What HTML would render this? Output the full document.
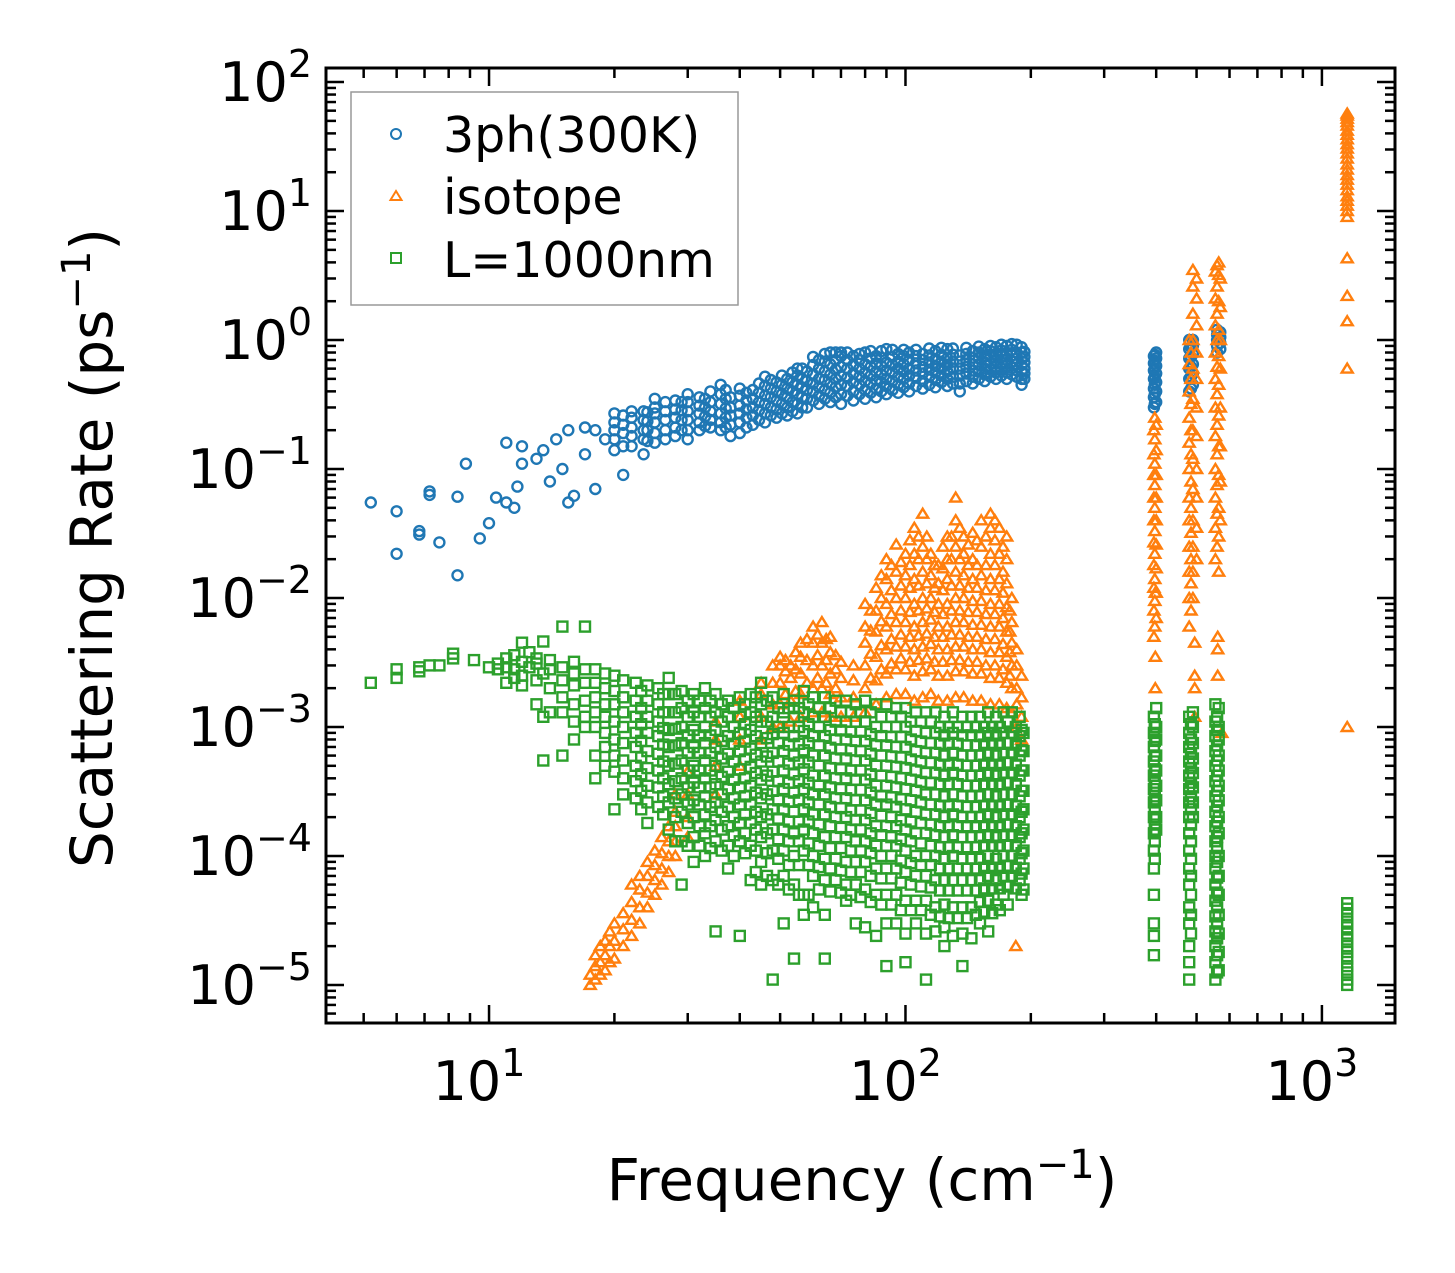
<!DOCTYPE html>
<html><head><meta charset="utf-8"><style>
html,body{margin:0;padding:0;background:#fff;}
svg{display:block;font-family:"DejaVu Sans","Liberation Sans",sans-serif;}
</style></head><body>
<svg id="chart" width="1455" height="1273" viewBox="0 0 1455 1273" xmlns="http://www.w3.org/2000/svg">
<rect width="1455" height="1273" fill="#fff"/>
<g id="marks"></g>
<g id="axes"></g>
<g>
<rect x="351" y="92" width="387" height="213" fill="#fff" stroke="#999" stroke-width="1.5"/>
<circle cx="396" cy="134" r="5" fill="none" stroke="#1f77b4" stroke-width="2"/>
<text x="443" y="152" font-size="49">3ph(300K)</text>
<path d="M396,191 L401.5,200 L390.5,200 Z" fill="none" stroke="#ff7f0e" stroke-width="2"/>
<text x="443" y="214" font-size="49">isotope</text>
<rect x="391" y="253" width="10" height="10" fill="none" stroke="#2ca02c" stroke-width="2"/>
<text x="443" y="277" font-size="49">L=1000nm</text>
</g>
<text x="862" y="1200" font-size="58" text-anchor="middle">Frequency (cm<tspan dy="-22" font-size="40">−1</tspan><tspan dy="22">)</tspan></text>
<text transform="translate(112,548) rotate(-90)" font-size="58" text-anchor="middle">Scattering Rate (ps<tspan dy="-22" font-size="40">−1</tspan><tspan dy="22">)</tspan></text>
</svg>
<script>
const xTicks=[1,2,3];
const yTicks=[2,1,0,-1,-2,-3,-4,-5];
const blueCols=[[5.2,[.055]],[6,[.047,.022]],[6.8,[.033,.031]],[7.2,[.067,.063]],[7.6,[.027]],[8.4,[.061,.015]],[8.8,[.11]],[9.5,[.029]],[10,[.038]],[10.4,[.06]],[11,[.16,.055]],[11.5,[.05]],[11.7,[.073]],[12,[.11,.15]],[13,[.12]],[13.5,[.14]],[14,[.08]],[14.5,[.17]],[15,[.1]],[15.5,[.055,.2]],[16,[.062]],[17,[.13,.21]],[18,[.07,.2]],[19,[.17]],
[20,[.14,.17,.2,.23,.27]],[21,[.09,.15,.19,.22,.26]],[22,[.15,.18,.21,.25,.28]],[23.5,[.13,.17,.2,.24,.28]],[25,[.16,.19,.23,.27,.3,.35]],[26.5,[.17,.2,.24,.28,.33]],[28,[.18,.21,.25,.29,.34]],[30,[.17,.2,.24,.28,.33,.38]],[32,[.2,.23,.27,.31,.36]],[34,[.21,.24,.28,.33,.4]],[36,[.2,.23,.27,.32,.38,.45]],[38,[.18,.22,.26,.3,.36]],[40,[.19,.23,.27,.31,.37,.42]],[43,[.22,.26,.3,.35,.41]],[46,[.23,.27,.32,.37,.44,.52]],[49,[.25,.29,.34,.4,.47]],[52,[.26,.3,.36,.42,.5]],[55,[.27,.32,.38,.45,.53,.6]],[58,[.3,.35,.41,.48,.57]],[62,[.32,.37,.43,.5,.6,.7]],[66,[.33,.39,.46,.54,.65,.8]],[70,[.32,.38,.45,.53,.62,.75,.8]],[75,[.34,.4,.47,.55,.64,.75]],[80,[.35,.41,.48,.56,.65,.8]],[85,[.36,.42,.49,.57,.66,.75]],[90,[.38,.44,.5,.58,.67,.85]],[96,[.39,.45,.52,.6,.68,.78]],[102,[.4,.46,.53,.6,.7,.8]],[110,[.42,.48,.55,.62,.7,.78]],[118,[.43,.49,.56,.63,.71,.82]],[126,[.44,.5,.57,.64,.72,.85]],[135,[.4,.46,.53,.6,.68,.76]],[145,[.46,.52,.58,.65,.73,.82]],[155,[.48,.54,.6,.67,.75,.85]],[165,[.5,.56,.62,.69,.77,.88]],[175,[.5,.56,.63,.7,.78,.9]],[185,[.52,.58,.65,.72,.8,.92]],[190,[.45,.5,.57,.64,.72,.8,.88]],
[24,[.165,.2,.235,.275]],[29,[.2,.24,.285,.33]],[33,[.215,.255,.3,.35]],[37,[.21,.25,.295,.35,.41]],[41.5,[.21,.25,.29,.34,.39]],[44.5,[.24,.285,.33,.39,.46]],[47.5,[.26,.3,.36,.42,.49]],[50.5,[.27,.32,.38,.45,.53]],[53.5,[.28,.33,.4,.47,.56]],[56.5,[.3,.36,.43,.5,.6]],[60,[.34,.4,.46,.54,.64,.74]],[64,[.35,.41,.49,.57,.68,.78]],[68,[.36,.43,.5,.59,.7,.8]],[72.5,[.37,.44,.51,.6,.7,.8]],[77.5,[.38,.45,.52,.6,.7,.78]],[82.5,[.39,.46,.53,.62,.72,.82]],[87.5,[.4,.47,.54,.63,.73,.82]],[93,[.41,.48,.56,.64,.74,.84]],[99,[.43,.5,.57,.65,.75,.84]],[106,[.44,.51,.58,.66,.75,.84]],[114,[.45,.52,.59,.67,.76,.86]],[122,[.47,.53,.6,.68,.77,.87]],[130,[.46,.52,.6,.68,.77,.86]],[140,[.48,.55,.62,.7,.78,.87]],[150,[.5,.57,.64,.72,.8,.89]],[160,[.52,.59,.66,.74,.82,.9]],[170,[.53,.6,.67,.75,.83,.92]],[180,[.54,.61,.68,.76,.84,.93]],[193,[.5,.55,.6,.67,.74,.81]],
[395,[.3,.36,.42,.5,.58,.66,.75]],[400,[.33,.4,.47,.55,.63,.72,.8]],[397,[.32,.38,.45,.52,.6,.69,.77]],[480,[.4,.5,.6,.72,.85,1.0]],[490,[.45,.55,.65,.78,.9,1.0]],[485,[.42,.52,.62,.74,.88]],[560,[.8,.9,1.0,1.1,1.2]],[570,[.85,.95,1.05,1.15]]];
const orangeCols=[[17.5,[1e-5,1.2e-5]],[18,[1.1e-5,1.4e-5,1.7e-5]],[18.5,[1.2e-5,1.5e-5,2e-5]],[19,[1.3e-5,1.7e-5,2.2e-5]],[19.5,[1.5e-5,2e-5,2.6e-5]],[20,[1.6e-5,2.2e-5,3e-5]],[21,[2e-5,2.7e-5,3.6e-5]],[22,[2.4e-5,3.2e-5,4.4e-5,6e-5]],[23,[3e-5,4e-5,5.5e-5,7e-5]],[24,[4e-5,5.2e-5,7e-5,9e-5]],[25,[5e-5,6.5e-5,8.5e-5,1.1e-4]],[26,[6e-5,8e-5,1.05e-4,1.4e-4]],[27,[7.5e-5,1e-4,1.3e-4,1.7e-4]],[28,[1e-4,1.3e-4,1.7e-4,2.2e-4,3e-4]],[30,[1.4e-4,2e-4,3e-4,4.5e-4]],
[35,[3e-4,5e-4,8e-4,1.1e-3]],[40,[5e-4,8e-4,1.2e-3,1.6e-3]],[45,[8e-4,1.2e-3,1.8e-3,2.2e-3]],[48,[1e-3,1.5e-3,2.2e-3,3e-3]],[50,[1e-3,1.5e-3,2.2e-3,3e-3,3.5e-3]],[53,[1.1e-3,1.6e-3,2.4e-3,3e-3]],[56,[1.2e-3,1.8e-3,2.6e-3,3.5e-3,4.5e-3]],[60,[1.3e-3,2e-3,3e-3,4.5e-3,6e-3]],[63,[1.3e-3,2e-3,3e-3,4.5e-3,6.5e-3]],[66,[1.2e-3,1.8e-3,2.6e-3,3.8e-3,5e-3]],[70,[1.2e-3,1.7e-3,2.4e-3,3.2e-3]],[75,[1.2e-3,1.7e-3,2.3e-3,3e-3]],[80,[1.3e-3,2e-3,3e-3,4.5e-3,6e-3,9e-3]],[85,[1.5e-3,2.3e-3,3.5e-3,5.5e-3,8e-3,1.2e-2]],[90,[1.7e-3,2.6e-3,4e-3,6e-3,9e-3,1.4e-2,2e-2]],[95,[1.8e-3,2.8e-3,4.2e-3,6.5e-3,1e-2,1.6e-2,2.6e-2]],[100,[1.8e-3,2.8e-3,4.2e-3,6.5e-3,1e-2,1.5e-2,2.2e-2]],[105,[1.6e-3,2.5e-3,4e-3,6e-3,9e-3,1.4e-2,2.2e-2,3.5e-2]],[110,[1.7e-3,2.7e-3,4.2e-3,6.5e-3,1e-2,1.6e-2,2.5e-2,4.5e-2]],[115,[1.8e-3,2.8e-3,4.4e-3,6.8e-3,1e-2,1.5e-2,2.2e-2]],[120,[1.6e-3,2.5e-3,4e-3,6e-3,9e-3,1.3e-2,1.8e-2]],[126,[1.6e-3,2.5e-3,4e-3,6e-3,9e-3,1.4e-2,2e-2,3e-2]],[132,[1.7e-3,2.7e-3,4.2e-3,6.5e-3,1e-2,1.6e-2,2.5e-2,4e-2,6e-2]],[138,[1.7e-3,2.7e-3,4.2e-3,6.5e-3,1e-2,1.5e-2,2.2e-2,3e-2]],[145,[1.6e-3,2.6e-3,4e-3,6.2e-3,9.5e-3,1.4e-2,2e-2,3.2e-2]],[152,[1.6e-3,2.6e-3,4e-3,6.2e-3,9.5e-3,1.5e-2,2.5e-2,4e-2]],[160,[1.5e-3,2.4e-3,3.8e-3,6e-3,9e-3,1.4e-2,2.2e-2,3.5e-2,4.5e-2]],[168,[1.5e-3,2.4e-3,3.8e-3,6e-3,9e-3,1.4e-2,2.2e-2,3.5e-2]],[175,[1.4e-3,2.2e-3,3.5e-3,5.5e-3,8.5e-3,1.3e-2,2e-2,3e-2]],[180,[1.3e-3,2e-3,3e-3,4.5e-3,6.5e-3,1e-2]],[185,[1e-3,1.5e-3,2e-3,3e-3,4e-3]],[190,[8e-4,1.2e-3,1.7e-3,2.5e-3]],[184,[2e-5]],
[51.5,[1.8e-3,2.7e-3,3.3e-3]],[54.5,[1.9e-3,2.8e-3,3.8e-3]],[58,[2.2e-3,3.3e-3,4.8e-3]],[61.5,[2.4e-3,3.6e-3,5.2e-3]],[64.5,[2.2e-3,3.3e-3,4.8e-3]],[68,[2e-3,2.8e-3,3.6e-3]],[82.5,[2.4e-3,3.7e-3,5.6e-3,8e-3]],[87.5,[2.8e-3,4.3e-3,6.6e-3,1e-2,1.5e-2]],[92.5,[3.1e-3,4.8e-3,7.5e-3,1.15e-2,1.8e-2]],[97.5,[3.4e-3,5.2e-3,8e-3,1.25e-2,1.9e-2]],[102.5,[3.2e-3,5e-3,7.8e-3,1.2e-2,1.8e-2,2.8e-2]],[107.5,[3.3e-3,5.1e-3,8e-3,1.25e-2,2e-2,3e-2]],[112.5,[3.4e-3,5.3e-3,8.3e-3,1.3e-2,2e-2,3e-2]],[117.5,[3.2e-3,5e-3,7.8e-3,1.2e-2,1.8e-2]],[123,[3.2e-3,5e-3,7.5e-3,1.15e-2,1.7e-2,2.5e-2]],[129,[3.3e-3,5.2e-3,8e-3,1.25e-2,2e-2,3e-2]],[135,[3.3e-3,5.2e-3,8e-3,1.25e-2,2e-2,3.5e-2]],[141.5,[3.2e-3,5e-3,7.8e-3,1.2e-2,1.8e-2,2.6e-2]],[148.5,[3.2e-3,5e-3,7.8e-3,1.2e-2,1.8e-2,2.8e-2]],[156,[3e-3,4.8e-3,7.5e-3,1.15e-2,1.8e-2,3e-2]],[164,[3e-3,4.8e-3,7.5e-3,1.15e-2,1.8e-2,2.8e-2,4e-2]],[171.5,[2.8e-3,4.4e-3,7e-3,1.1e-2,1.6e-2,2.5e-2]],[178,[2.5e-3,3.8e-3,5.5e-3,8e-3]],
[395,[.005,.008,.012,.018,.027,.04,.06,.09,.13,.2]],[400,[.007,.011,.017,.026,.04,.06,.09,.14,.22]],[397,[.006,.0095,.014,.022,.033,.05,.075,.11,.17,.25]],[398,[3.5e-3,1.1e-2,2e-3]],
[480,[.006,.01,.016,.025,.04,.06,.1,.16,.25,.4,.65,1]],[490,[.01,.016,.025,.04,.07,.12,.2,.35,.6,1,1.6,2.6,3.5]],[485,[.008,.013,.02,.032,.05,.08,.13,.2,.32,.5,.8]],[500,[.02,.035,.06,.1,.18,.3,.5,.8,1.3,2.1,3]],[495,[.0045,.0025,.002,.0012]],
[555,[.02,.035,.06,.1,.18,.3,.5,.8,1.3,2.1,3.4]],[565,[.016,.03,.05,.09,.15,.26,.45,.75,1.2,2,3.2,4]],[560,[.025,.045,.075,.13,.22,.38,.62,1,1.6,2.6,3.8]],[570,[.04,.08,.15,.3,.6,1,1.8,3]],[562,[.005,.004,.0025]],[575,[9e-4]],
[1150,[9,10,11,12,13,14.5,16,17.5,19,21,23,25.5,28,30.5,33,36,39,42,46,49,52,55,57]],[1150,[4.3,2.2,1.4,.6,.001]]];
const greenCols=[[5.2,[.0022]],[6,[.0028,.0024]],[6.8,[.0029,.0027]],[7.2,[.003]],[7.6,[.003]],[8.2,[.0037,.0034]],[9.2,[.0033]],[10,[.0029]],[10.5,[.0031,.0028]],[11,[.0034,.0022,.0029]],[11.5,[.0024,.0036,.0028]],[12,[.0045,.0032,.0021,.0025]],[12.5,[.0038,.0029]],[13,[.0034,.0031,.0023,.0015]],[13.5,[.0046,.0026,.0012,5.5e-4]],[14,[.0033,.0028,.002,.0013]],[15,[.006,.0029,.0023,.0017,.0013,6e-4]],[16,[.0032,.0026,.0021,.0015,.0011,8e-4]],[17,[.006,.0028,.0022,.0016,.0012,.001]],[18,[.0028,.0022,.0017,.0013,.001,6e-4,4e-4]],[19,[.0026,.002,.0015,.0012,9e-4,7e-4,5e-4]],[20,[.0025,.0019,.0015,.0011,8e-4,6e-4,4.5e-4,2.3e-4]],
[21,[.0023,.0017,.0013,.001,7.5e-4,5.5e-4,4e-4,3e-4]],[22.5,[.0022,.0016,.0012,9e-4,7e-4,5e-4,3.8e-4,2.8e-4]],[24,[.0021,.0016,.0012,9e-4,6.5e-4,4.8e-4,3.5e-4,2.6e-4,1.8e-4]],[25.5,[.002,.0015,.0011,8.5e-4,6.2e-4,4.6e-4,3.4e-4,2.4e-4]],[27,[.0024,.0018,.0013,9.5e-4,7e-4,5e-4,3.6e-4,2.6e-4,1.6e-4]],[29,[.0019,.0014,.001,7.5e-4,5.5e-4,4e-4,3e-4,2.2e-4,1.3e-4,6e-5]],[31,[.0018,.0013,9.5e-4,7e-4,5e-4,3.7e-4,2.7e-4,2e-4,1.4e-4,9e-5]],[33,[.002,.0014,.001,7.5e-4,5.5e-4,4e-4,2.9e-4,2.1e-4,1.5e-4,1e-4]],[35,[.0018,.0013,9.5e-4,7e-4,5e-4,3.6e-4,2.6e-4,1.9e-4,1.3e-4,2.6e-5]],[37.5,[.0016,.0012,8.5e-4,6.2e-4,4.5e-4,3.3e-4,2.4e-4,1.7e-4,1.2e-4,8e-5]],[40,[.0017,.0012,9e-4,6.5e-4,4.7e-4,3.4e-4,2.5e-4,1.8e-4,1.3e-4,2.4e-5]],[42.5,[.0018,.0013,9.5e-4,6.8e-4,4.9e-4,3.5e-4,2.5e-4,1.8e-4,1.2e-4,6.5e-5]],[45,[.0022,.0015,.0011,7.5e-4,5.4e-4,3.9e-4,2.8e-4,2e-4,1.4e-4,9e-5,6e-5]],[48,[.0017,.0012,8.8e-4,6.3e-4,4.5e-4,3.2e-4,2.3e-4,1.6e-4,1.1e-4,6.5e-5,1.1e-5]],[51,[.0018,.0013,9e-4,6.5e-4,4.6e-4,3.3e-4,2.3e-4,1.6e-4,1.1e-4,7e-5,3e-5]],[54,[.0016,.0012,8.5e-4,6e-4,4.3e-4,3.1e-4,2.2e-4,1.5e-4,1e-4,6e-5,1.6e-5]],[57,[.0019,.0013,9.3e-4,6.6e-4,4.7e-4,3.3e-4,2.3e-4,1.6e-4,1.1e-4,5e-5,3.5e-5]],[60,[.0017,.0012,8.5e-4,6e-4,4.2e-4,3e-4,2.1e-4,1.5e-4,1e-4,7e-5,4e-5]],[64,[.0017,.0012,8.5e-4,6e-4,4.2e-4,3e-4,2.1e-4,1.4e-4,9.5e-5,6.5e-5,3.5e-5,1.6e-5]],[68,[.0016,.0011,8e-4,5.7e-4,4e-4,2.8e-4,2e-4,1.4e-4,9.5e-5,6.5e-5]],[72,[.0016,.0011,8e-4,5.7e-4,4e-4,2.8e-4,2e-4,1.4e-4,9e-5,6e-5,4.5e-5]],[76,[.0015,.0011,7.8e-4,5.5e-4,3.9e-4,2.7e-4,1.9e-4,1.3e-4,9e-5,6e-5,3e-5]],[80,[.0016,.0011,7.8e-4,5.5e-4,3.9e-4,2.7e-4,1.9e-4,1.3e-4,9e-5,5.5e-5,2.8e-5]],[85,[.0015,.001,7.2e-4,5e-4,3.5e-4,2.5e-4,1.7e-4,1.2e-4,8e-5,5e-5,2.4e-5]],[90,[.0015,.001,7.2e-4,5e-4,3.5e-4,2.5e-4,1.7e-4,1.2e-4,8e-5,5e-5,3e-5,1.4e-5]],[95,[.0014,.001,7e-4,4.9e-4,3.4e-4,2.4e-4,1.7e-4,1.2e-4,8e-5,5e-5,3e-5]],[100,[.0014,.001,7e-4,4.8e-4,3.3e-4,2.3e-4,1.6e-4,1.1e-4,7.5e-5,4.5e-5,2.5e-5,1.5e-5]],[106,[.0013,9.3e-4,6.5e-4,4.6e-4,3.2e-4,2.2e-4,1.5e-4,1e-4,7e-5,4.5e-5,3e-5]],[112,[.0013,9e-4,6.3e-4,4.4e-4,3e-4,2.1e-4,1.5e-4,1e-4,7e-5,4.5e-5,2.5e-5,1.1e-5]],[118,[.0013,9e-4,6.3e-4,4.4e-4,3e-4,2.1e-4,1.45e-4,1e-4,6.5e-5,4e-5,2.6e-5]],[124,[.0012,8.6e-4,6e-4,4.2e-4,2.9e-4,2e-4,1.4e-4,9.5e-5,6.5e-5,4.2e-5,2.8e-5,2e-5]],[130,[.0013,9e-4,6.3e-4,4.4e-4,3e-4,2.1e-4,1.45e-4,1e-4,6.5e-5,4e-5,2.4e-5]],[137,[.0012,8.6e-4,6e-4,4.2e-4,2.9e-4,2e-4,1.4e-4,9.5e-5,6.5e-5,4e-5,2.5e-5,1.4e-5]],[144,[.0012,8.6e-4,6e-4,4.2e-4,2.9e-4,2e-4,1.4e-4,9.5e-5,6.5e-5,4e-5,2.3e-5]],[151,[.0012,8.5e-4,6e-4,4.2e-4,2.9e-4,2e-4,1.4e-4,9.5e-5,6.5e-5,4.4e-5,3e-5]],[158,[.0013,9e-4,6.3e-4,4.4e-4,3e-4,2.1e-4,1.45e-4,1e-4,7e-5,4.5e-5,2.6e-5]],[165,[.0012,8.6e-4,6e-4,4.2e-4,2.9e-4,2e-4,1.4e-4,9.5e-5,6.5e-5,4.2e-5]],[172,[.0013,9e-4,6.3e-4,4.4e-4,3e-4,2.1e-4,1.45e-4,1e-4,7e-5,5e-5]],[180,[.0013,9e-4,6.3e-4,4.4e-4,3e-4,2.1e-4,1.45e-4,1e-4,7e-5]],[188,[.0012,8.5e-4,6e-4,4.2e-4,2.9e-4,2e-4,1.4e-4,9.5e-5,6.5e-5]],[192,[9e-4,6.5e-4,4.6e-4,3.2e-4,2.3e-4,1.6e-4,1.1e-4,8e-5,5.5e-5]],
[23.2,[.0019,.0014,.00105,7.8e-4,5.8e-4,4.3e-4,3.2e-4,2.3e-4]],[26.2,[.0018,.0013,9.8e-4,7.3e-4,5.4e-4,4e-4,2.9e-4,2.1e-4]],[28,[.0018,.0013,9.7e-4,7.2e-4,5.2e-4,3.8e-4,2.8e-4,2e-4,1.3e-4]],[30,[.0016,.0012,8.6e-4,6.3e-4,4.6e-4,3.4e-4,2.5e-4,1.8e-4,1.2e-4]],[32,[.0016,.0012,8.6e-4,6.3e-4,4.6e-4,3.4e-4,2.5e-4,1.7e-4,1.2e-4]],[34,[.0016,.0012,8.6e-4,6.3e-4,4.6e-4,3.4e-4,2.4e-4,1.7e-4,1.15e-4]],[36.2,[.0015,.0011,7.8e-4,5.7e-4,4.1e-4,3e-4,2.2e-4,1.6e-4,1.1e-4]],[38.7,[.0014,.001,7.4e-4,5.4e-4,3.9e-4,2.8e-4,2e-4,1.45e-4,1e-4]],[41.2,[.0015,.00105,7.7e-4,5.6e-4,4e-4,2.9e-4,2.1e-4,1.5e-4,1.05e-4]],[43.7,[.0017,.0012,8.5e-4,6.1e-4,4.4e-4,3.1e-4,2.2e-4,1.6e-4,1.1e-4,7.5e-5]],[46.5,[.0016,.0011,8.2e-4,5.9e-4,4.2e-4,3e-4,2.1e-4,1.5e-4,1.05e-4,7e-5]],[49.5,[.0014,.001,7.5e-4,5.4e-4,3.8e-4,2.7e-4,1.95e-4,1.35e-4,9.5e-5,6e-5]],[52.5,[.0014,.001,7.3e-4,5.2e-4,3.7e-4,2.65e-4,1.85e-4,1.3e-4,8.5e-5,5.5e-5]],[55.5,[.0014,.001,7.4e-4,5.3e-4,3.8e-4,2.7e-4,1.85e-4,1.3e-4,8.5e-5,5e-5]],[58.5,[.0015,.00105,7.5e-4,5.3e-4,3.7e-4,2.6e-4,1.85e-4,1.25e-4,8.5e-5,5e-5]],[62,[.0014,.001,7.2e-4,5e-4,3.5e-4,2.5e-4,1.75e-4,1.2e-4,8.2e-5,5.5e-5]],[66,[.0014,9.5e-4,6.9e-4,4.8e-4,3.4e-4,2.4e-4,1.7e-4,1.15e-4,8e-5,5.3e-5]],[70,[.0013,9.4e-4,6.7e-4,4.7e-4,3.3e-4,2.35e-4,1.65e-4,1.15e-4,7.7e-5,5.2e-5]],[74,[.0013,9.2e-4,6.6e-4,4.6e-4,3.25e-4,2.25e-4,1.6e-4,1.1e-4,7.5e-5,5e-5]],[78,[.0013,9.2e-4,6.5e-4,4.6e-4,3.25e-4,2.25e-4,1.6e-4,1.1e-4,7.5e-5,4.8e-5]],[82.5,[.0013,8.8e-4,6.2e-4,4.3e-4,3.1e-4,2.15e-4,1.5e-4,1.05e-4,7e-5,4.4e-5]],[87.5,[.0012,8.5e-4,6e-4,4.2e-4,2.9e-4,2.05e-4,1.45e-4,1e-4,6.7e-5,4.2e-5]],[92.5,[.0012,8.4e-4,5.9e-4,4.1e-4,2.85e-4,2e-4,1.4e-4,1e-4,6.7e-5,4.2e-5]],[97.5,[.0012,8.4e-4,5.8e-4,4e-4,2.75e-4,1.9e-4,1.35e-4,9.2e-5,6.2e-5,3.8e-5]],[103,[.0011,8e-4,5.6e-4,3.9e-4,2.7e-4,1.85e-4,1.3e-4,8.8e-5,6e-5,3.8e-5]],[109,[.0011,7.7e-4,5.4e-4,3.75e-4,2.6e-4,1.8e-4,1.25e-4,8.5e-5,5.8e-5,3.8e-5]],[115,[.0011,7.5e-4,5.3e-4,3.7e-4,2.5e-4,1.75e-4,1.2e-4,8.5e-5,5.7e-5,3.5e-5]],[121,[.001,7.4e-4,5.1e-4,3.6e-4,2.45e-4,1.7e-4,1.17e-4,8e-5,5.4e-5,3.4e-5]],[127,[.001,7.4e-4,5.1e-4,3.6e-4,2.45e-4,1.7e-4,1.17e-4,8e-5,5.4e-5,3.3e-5]],[133.5,[.001,7.4e-4,5.1e-4,3.6e-4,2.45e-4,1.7e-4,1.17e-4,8e-5,5.4e-5,3.3e-5]],[140.5,[.001,7.2e-4,5e-4,3.5e-4,2.4e-4,1.7e-4,1.17e-4,8e-5,5.4e-5,3.3e-5]],[147.5,[.001,7.2e-4,5e-4,3.5e-4,2.4e-4,1.7e-4,1.17e-4,8e-5,5.4e-5,3.5e-5]],[154.5,[.001,7.3e-4,5.1e-4,3.6e-4,2.45e-4,1.7e-4,1.2e-4,8.1e-5,5.6e-5,3.7e-5]],[161.5,[.001,7.4e-4,5.1e-4,3.6e-4,2.45e-4,1.7e-4,1.2e-4,8.1e-5,5.6e-5,3.6e-5]],[168.5,[.001,7.4e-4,5.1e-4,3.6e-4,2.45e-4,1.7e-4,1.2e-4,8.1e-5,5.6e-5,3.8e-5]],[176,[.0011,7.5e-4,5.3e-4,3.7e-4,2.5e-4,1.75e-4,1.2e-4,8.4e-5,5.8e-5,4.2e-5]],[184,[.001,7.3e-4,5.1e-4,3.6e-4,2.45e-4,1.7e-4,1.2e-4,8.1e-5,5.6e-5]],[190,[9.5e-4,6.6e-4,4.6e-4,3.2e-4,2.2e-4,1.5e-4,1.05e-4,7.3e-5,5e-5]],
[395,[.0012,9e-4,7e-4,5.4e-4,4.2e-4,3.3e-4,2.6e-4,2e-4,1.5e-4,1.1e-4,8e-5,5e-5,3e-5,2.4e-5,1.7e-5]],[400,[.0014,.001,8e-4,6e-4,4.6e-4,3.5e-4,2.7e-4,2e-4,1.6e-4]],[397,[.00105,7.8e-4,6e-4,4.7e-4,3.7e-4,2.9e-4,2.3e-4,1.75e-4,1.3e-4,9.5e-5]],
[480,[.0012,9e-4,7e-4,5.4e-4,4.2e-4,3.3e-4,2.6e-4,2e-4,1.5e-4,1.1e-4,8e-5,6e-5,4e-5,3e-5,2e-5,1.5e-5,1.1e-5]],[490,[.0013,.001,7.5e-4,5.7e-4,4.4e-4,3.4e-4,2.6e-4,2e-4]],[485,[.00105,8e-4,6.2e-4,4.8e-4,3.7e-4,2.9e-4,2.3e-4,1.75e-4,1.3e-4,9.5e-5,7e-5,5e-5,3.5e-5,2.5e-5]],
[555,[.0015,.0011,8.5e-4,6.5e-4,5e-4,3.8e-4,2.9e-4,2.2e-4,1.7e-4,1.3e-4,1e-4,8e-5,6e-5,4.5e-5,3.4e-5,2.6e-5,2e-5,1.5e-5,1.1e-5]],[565,[.0014,.001,8e-4,6e-4,4.6e-4,3.5e-4,2.7e-4,2e-4,1.5e-4,1e-4,7e-5,5e-5,3.5e-5,2.5e-5,1.8e-5,1.3e-5]],[560,[.0012,9.5e-4,7.2e-4,5.5e-4,4.2e-4,3.2e-4,2.45e-4,1.85e-4,1.4e-4,1.15e-4,9e-5,6.8e-5,5.2e-5,4e-5,3e-5,2.3e-5,1.7e-5,1.25e-5]],
[1150,[1e-5,1.1e-5,1.25e-5,1.4e-5,1.6e-5,1.8e-5,2e-5,2.25e-5,2.5e-5,2.8e-5,3.1e-5,3.5e-5,3.9e-5,4.3e-5]]];

const L=326,R=1395,T=68,B=1023;
const X0=0.6085,X1=3.1755,Y0=-5.295,Y1=2.109;
function sx(v){return L+(Math.log10(v)-X0)/(X1-X0)*(R-L);}
function sy(v){return B-(Math.log10(v)-Y0)/(Y1-Y0)*(B-T);}
const NS='http://www.w3.org/2000/svg';
function mk(tag,attrs,parent){const e=document.createElementNS(NS,tag);for(const k in attrs)e.setAttribute(k,attrs[k]);parent.appendChild(e);return e;}
const marks=document.getElementById('marks');
const gB=mk('g',{fill:'none',stroke:'#1f77b4','stroke-width':2.4},marks);


blueCols.forEach(c=>c[1].forEach(v=>{const e=mk('circle',{cx:sx(c[0]).toFixed(1),cy:sy(v).toFixed(1),r:5},gB);

}));
const gO=mk('g',{fill:'none',stroke:'#ff7f0e','stroke-width':2.4},marks);


orangeCols.forEach(c=>c[1].forEach(v=>{const x=sx(c[0]),y=sy(v);const e=mk('path',{d:`M${x.toFixed(1)},${(y-5).toFixed(1)} l5.5,9 l-11,0 Z`},gO);

}));
const gG=mk('g',{fill:'none',stroke:'#2ca02c','stroke-width':2.4},marks);


greenCols.forEach(c=>c[1].forEach(v=>{const e=mk('rect',{x:(sx(c[0])-5).toFixed(1),y:(sy(v)-5).toFixed(1),width:10,height:10},gG);

}));

const ax=document.getElementById('axes');
const tg=mk('g',{stroke:'#000','stroke-width':2.5},ax);
for(let d=0;d<=3;d++)for(let m=1;m<10;m++){const v=m*Math.pow(10,d);const lv=Math.log10(v);if(lv<X0||lv>X1)continue;const x=sx(v);const len=m==1?18:10;
mk('line',{x1:x,y1:B,x2:x,y2:B-len},tg);mk('line',{x1:x,y1:T,x2:x,y2:T+len},tg);}
for(let d=-6;d<=2;d++)for(let m=1;m<10;m++){const v=m*Math.pow(10,d);const lv=Math.log10(v);if(lv<Y0||lv>Y1)continue;const y=sy(v);const len=m==1?18:10;
mk('line',{x1:L,y1:y,x2:L+len,y2:y},tg);mk('line',{x1:R,y1:y,x2:R-len,y2:y},tg);}
const fr=mk('rect',{x:L,y:T,width:R-L,height:B-T,fill:'none',stroke:'#000','stroke-width':3},ax);


xTicks.forEach(p=>{const t=mk('text',{x:sx(Math.pow(10,p))-10,y:1100,'font-size':54,'text-anchor':'middle'},ax);


t.innerHTML='10<tspan dy="-24" font-size="38">'+p+'</tspan>';});
yTicks.forEach(p=>{const t=mk('text',{x:312,y:sy(Math.pow(10,p))+19,'font-size':54,'text-anchor':'end'},ax);


t.innerHTML='10<tspan dy="-24" font-size="38">'+(p<0?'−'+(-p):p)+'</tspan>';});
</script>
</body></html>
